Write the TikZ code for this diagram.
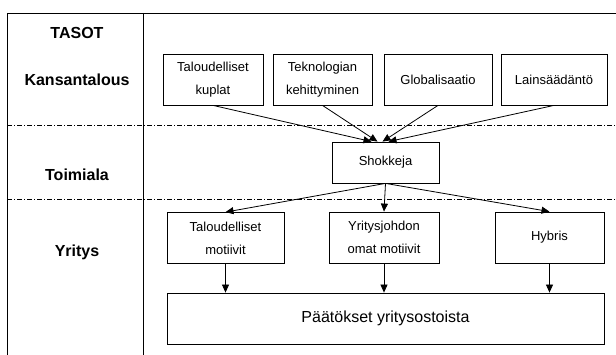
\documentclass[tikz,border=0pt]{standalone}
\usepackage{fontspec}
\setmainfont{Liberation Sans}
\usetikzlibrary{positioning, arrows.meta}

\begin{document}
\begin{tikzpicture}[
            x=1pt, y=-1pt,
            >={Triangle[length=8pt,width=7pt]},
            line width=0.8pt,
            box/.style={draw, rectangle, minimum height=51pt, inner sep=0pt, align=center, font=\fontsize{13}{23}\selectfont},
            level/.style={font=\fontsize{16}{19}\selectfont\bfseries},
            divider/.style={line width=0.7pt, dash pattern=on 5pt off 2pt on 1pt off 2pt},
        ]
        \useasboundingbox (0,0) rectangle (616,355);

        % Frame and level column
        \draw (7,355) -- (7,13) -- (616,13);
        \draw (143,13) -- (143,355);
        \draw[divider] (7,125) -- (616,125);
        \draw[divider] (7,199.5) -- (616,199.5);

        \node[level] (tasot) at (77,33) {TASOT};
        \node[level] (kansa) at (77,80) {Kansantalous};
        \node[level] (toimi) at (77,175) {Toimiala};
        \node[level] (yritys) at (77,252) {Yritys};

        % Kansantalous level
        \node[box, minimum width=100pt] (K-1) at (213,79.5) {Taloudelliset\\kuplat};
        \node[box, minimum width=99pt] (K-2) at (322.5,79.5) {Teknologian\\kehittyminen};
        \node[box, minimum width=108pt] (K-3) at (438,79.5) {Globalisaatio};
        \node[box, minimum width=106pt] (K-4) at (554,79.5) {Lainsäädäntö};

        % Toimiala level
        \node[box, minimum width=107pt, minimum height=41pt] (S) at (385.5,162.5) {Shokkeja};

        % Yritys level
        \node[box, minimum width=117pt] (Y-1) at (225.5,238) {Taloudelliset\\motiivit};
        \node[box, minimum width=110pt] (Y-2) at (384,237.5) {Yritysjohdon\\omat motiivit};
        \node[box, minimum width=109pt] (Y-3) at (549.5,237.5) {Hybris};
        \node[box, minimum width=437pt, font=\fontsize{16}{19}\selectfont] (P) at (385.5,318.5) {Päätökset yritysostoista};

        % Connect the shocks
        \draw[->] (K-1.south) -- ([xshift=-14pt]S.north);
        \draw[->] (K-2.south) -- ([xshift=-8pt]S.north);
        \draw[->] (K-3.south) -- ([xshift=-3pt]S.north);
        \draw[->] (K-4.south) -- ([xshift=3pt]S.north);

        \foreach \dest in {1,2,3}
        \draw[->] (S.south) -- (Y-\dest.north);

        \foreach \source in {1,2,3}
        \draw[->] (Y-\source.south) -- (Y-\source.south |- P.north);
    \end{tikzpicture}
\end{document}
